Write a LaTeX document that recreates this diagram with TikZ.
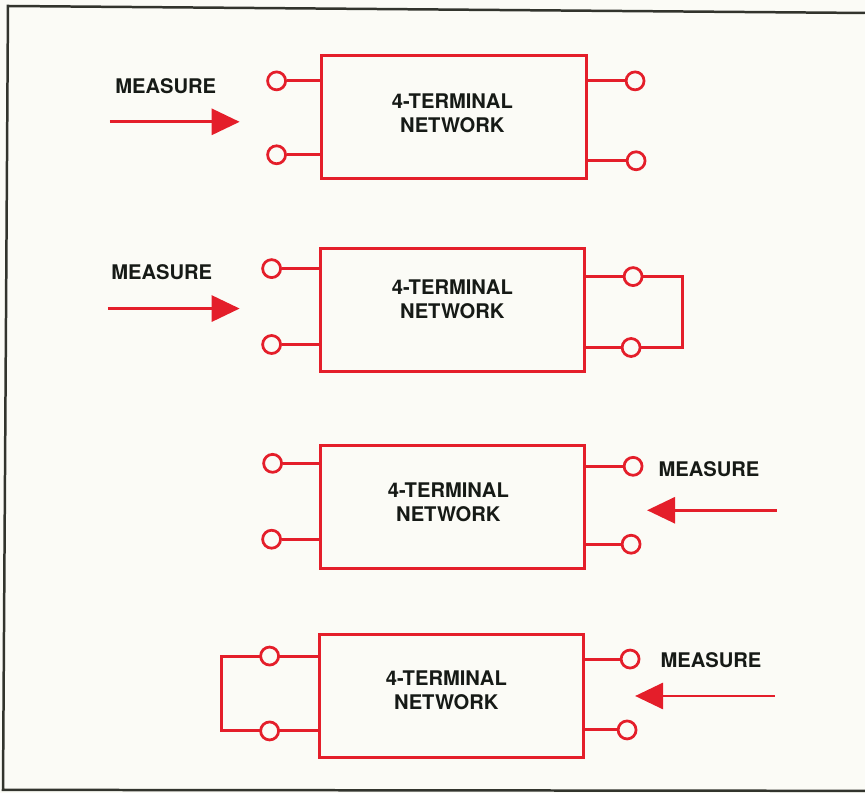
\documentclass[tikz,border=0pt]{standalone}
\usepackage{fontspec}
\setmainfont{TeX Gyre Heros}
\usetikzlibrary{arrows.meta,positioning}
\definecolor{CircuitRed}{RGB}{228, 30, 42}
\definecolor{PaperWhite}{RGB}{251, 251, 246}
\definecolor{FrameGray}{RGB}{50, 52, 45}
\definecolor{InkBlack}{RGB}{22, 26, 22}

\begin{document}
\begin{tikzpicture}[x=0.02cm, y=-0.02cm,
    netbox/.style={draw=CircuitRed, line width=0.06cm, minimum width=5.3cm, minimum height=2.46cm},
    nettext/.style={align=center, text=InkBlack, font=\fontsize{11.5}{13.7}\selectfont\bfseries},
    terminal/.style={circle, draw=CircuitRed, line width=0.055cm, fill=PaperWhite,
        minimum size=0.36cm, inner sep=0pt},
    wire/.style={draw=CircuitRed, line width=0.06cm},
    measure/.style={text=InkBlack, font=\fontsize{11.5}{13.7}\selectfont\bfseries},
    probe/.style={draw=CircuitRed, fill=CircuitRed, line width=0.06cm,
        -{Triangle[length=0.56cm, width=0.52cm]}}
]
    % paper and frame
    \fill[PaperWhite] (0,0) rectangle (866,794);
    \draw[FrameGray, line width=0.05cm] (866,13) -- (8,6) -- (3,791) -- (866,792);

    % block 1: open output
    \node[netbox] (box1) at (454.5,117.5) {};
    \node[nettext] (name1) at (453,113) {4-TERMINAL\\NETWORK};
    \node[terminal] (in1a) at (277,81) {};
    \node[terminal] (in1b) at (277,155) {};
    \node[terminal] (out1a) at (636,81) {};
    \node[terminal] (out1b) at (637,161) {};
    \draw[wire] (in1a.east) -- (in1a -| box1.west);
    \draw[wire] (in1b.east) -- (in1b -| box1.west);
    \draw[wire] (out1a.west) -- (out1a -| box1.east);
    \draw[wire] (out1b.west) -- (out1b -| box1.east);
    \node[measure] (meas1) at (166,86) {MEASURE};
    \coordinate (tail1) at (110,122);
    \coordinate (tip1) at (240,122);
    \draw[probe] (tail1) -- (tip1);

    % block 2: shorted output
    \node[netbox] (box2) at (453,310.5) {};
    \node[nettext] (name2) at (453,300) {4-TERMINAL\\NETWORK};
    \node[terminal] (in2a) at (272,269) {};
    \node[terminal] (in2b) at (272,345) {};
    \coordinate (loop2) at (683,310);
    \draw[wire] (in2a.east) -- (in2a -| box2.west);
    \draw[wire] (in2b.east) -- (in2b -| box2.west);
    \draw[wire] (box2.east |- 0,277) -- (loop2 |- 0,277) |- (box2.east |- 0,348);
    \node[terminal] (out2a) at (634,277) {};
    \node[terminal] (out2b) at (632,348) {};
    \node[measure] (meas2) at (162,273) {MEASURE};
    \coordinate (tail2) at (108,309);
    \coordinate (tip2) at (240,309);
    \draw[probe] (tail2) -- (tip2);

    % block 3: open input
    \node[netbox] (box3) at (453,507.5) {};
    \node[nettext] (name3) at (449,503) {4-TERMINAL\\NETWORK};
    \node[terminal] (in3a) at (273,464) {};
    \node[terminal] (in3b) at (272,540) {};
    \node[terminal] (out3a) at (634,467) {};
    \node[terminal] (out3b) at (632,545) {};
    \draw[wire] (in3a.east) -- (in3a -| box3.west);
    \draw[wire] (in3b.east) -- (in3b -| box3.west);
    \draw[wire] (out3a.west) -- (out3a -| box3.east);
    \draw[wire] (out3b.west) -- (out3b -| box3.east);
    \node[measure] (meas3) at (710,470) {MEASURE};
    \coordinate (tail3) at (778,511);
    \coordinate (tip3) at (648,511);
    \draw[probe] (tail3) -- (tip3);

    % block 4: shorted input
    \node[netbox] (box4) at (452,697) {};
    \node[nettext] (name4) at (447,691) {4-TERMINAL\\NETWORK};
    \coordinate (loop4) at (222,697);
    \draw[wire] (box4.west |- 0,657) -- (loop4 |- 0,657) |- (box4.west |- 0,732);
    \node[terminal] (in4a) at (270,657) {};
    \node[terminal] (in4b) at (270,732) {};
    \node[terminal] (out4a) at (631,660) {};
    \node[terminal] (out4b) at (628,731) {};
    \draw[wire] (out4a.west) -- (out4a -| box4.east);
    \draw[wire] (out4b.west) -- (out4b -| box4.east);
    \node[measure] (meas4) at (712,661) {MEASURE};
    \coordinate (tail4) at (776,697);
    \coordinate (tip4) at (636,697);
    \draw[probe] (tail4) -- (tip4);
\end{tikzpicture}
\end{document}
